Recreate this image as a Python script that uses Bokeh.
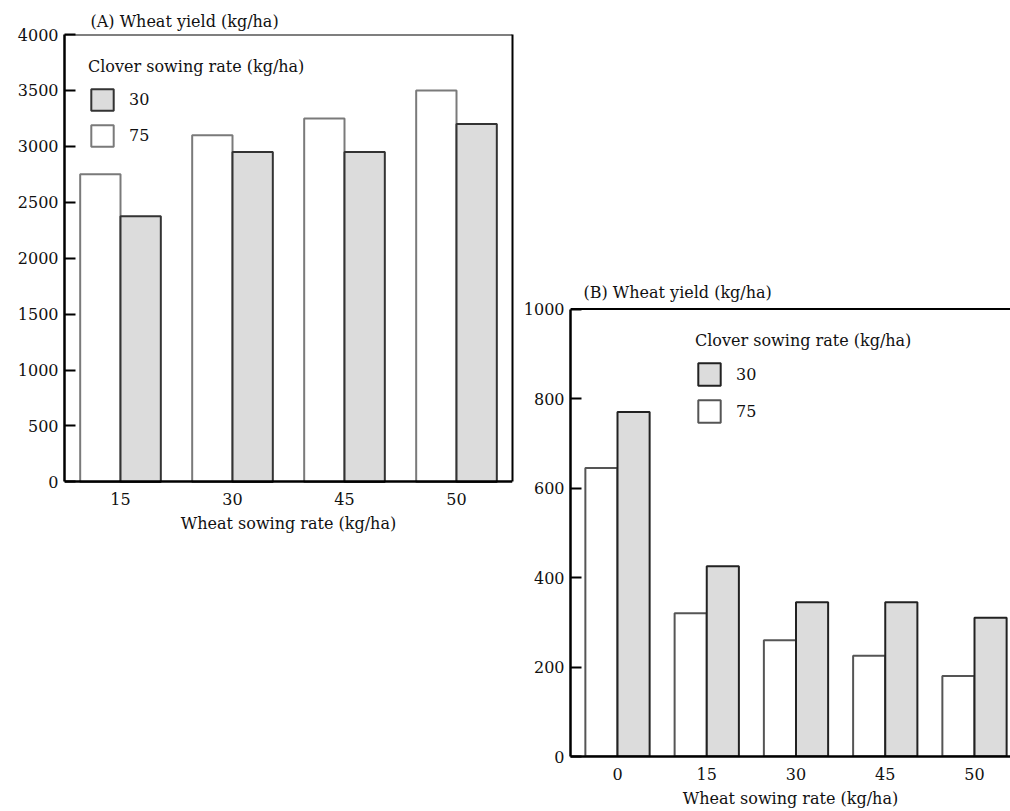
from bokeh.plotting import figure
from bokeh.models import (Range1d, FixedTicker, Legend, LegendItem, Span,
                          ColumnDataSource, LinearAxis, Label)
from bokeh.layouts import row
from bokeh.embed import file_html
from bokeh.resources import INLINE

# ---------------- data ----------------
# Panel A
a_title = "(A) Wheat yield (kg/ha)"
a_categories = ["15", "30", "45", "50"]
a_clover30 = [2375, 2950, 2950, 3200]
a_clover75 = [2750, 3100, 3250, 3500]
a_yticks = [0, 500, 1000, 1500, 2000, 2500, 3000, 3500, 4000]

# Panel B
b_title = "(B) Wheat yield (kg/ha)"
b_categories = ["0", "15", "30", "45", "50"]
b_clover30 = [770, 425, 345, 345, 310]
b_clover75 = [645, 320, 260, 225, 180]
b_yticks = [0, 200, 400, 600, 800, 1000]

x_label = "Wheat sowing rate (kg/ha)"
legend_title = "Clover sowing rate (kg/ha)"
series_labels = ["30", "75"]

FONT = "DejaVu Serif"
FS = "16px"
TXT = "#111111"
GRAY = "#dcdcdc"
BAR_W = 0.36

# shared vertical frame (both panels are aligned in a row): y 34 .. 757
H = 810
TOP = 34
BOTTOM = H - 757
FRAME_H = 757 - TOP
PANEL_H = 448  # pixel height of 0..ymax of each panel


def style_x(xa, centers, cats):
    xa.ticker = FixedTicker(ticks=centers)
    xa.major_label_overrides = {c: lab for c, lab in zip(centers, cats)}
    xa.major_tick_line_color = None
    xa.minor_tick_line_color = None
    xa.axis_line_width = 2.5
    xa.axis_line_color = "black"
    xa.axis_label = x_label
    xa.axis_label_text_font = FONT
    xa.axis_label_text_font_size = FS
    xa.axis_label_text_font_style = "normal"
    xa.axis_label_text_color = TXT
    xa.axis_label_standoff = 6
    xa.major_label_standoff = 5
    xa.major_label_text_font = FONT
    xa.major_label_text_font_size = FS
    xa.major_label_text_color = TXT


def style_y(ya, yticks, ymax):
    ya.ticker = FixedTicker(ticks=yticks)
    ya.bounds = (0, ymax)
    ya.major_tick_in = 11
    ya.major_tick_out = 0
    ya.major_tick_line_width = 2
    ya.major_tick_line_color = "black"
    ya.minor_tick_line_color = None
    ya.axis_line_width = 2.5
    ya.axis_line_color = "black"
    ya.major_label_standoff = 6
    ya.major_label_text_font = FONT
    ya.major_label_text_font_size = FS
    ya.major_label_text_color = TXT


def make_panel(cats, v30, v75, yticks, ymax, y_bottom_px, xr, width,
               min_left, min_right, legend_loc, glyph_h, line75, line30):
    # y range chosen so that 0..ymax occupies PANEL_H px ending y_bottom_px
    per_px = ymax / PANEL_H
    y0 = -(757 - y_bottom_px) * per_px
    y1 = y0 + FRAME_H * per_px
    p = figure(width=width, height=H,
               x_range=Range1d(*xr), y_range=Range1d(y0, y1),
               min_border_left=min_left, min_border_top=TOP,
               min_border_bottom=BOTTOM, min_border_right=min_right,
               output_backend="svg", toolbar_location=None)
    centers = [i + 0.5 for i in range(len(cats))]
    src = ColumnDataSource(dict(
        x75=[c - BAR_W / 2 for c in centers],
        x30=[c + BAR_W / 2 for c in centers],
        v75=v75, v30=v30))
    r75 = p.vbar(x="x75", top="v75", bottom=0, width=BAR_W, source=src,
                 fill_color="white", line_color=line75, line_width=2)
    r30 = p.vbar(x="x30", top="v30", bottom=0, width=BAR_W, source=src,
                 fill_color=GRAY, line_color=line30, line_width=2)

    p.xgrid.visible = False
    p.ygrid.visible = False
    p.outline_line_color = None
    p.background_fill_color = "white"
    p.border_fill_color = "white"
    p.add_layout(Span(location=ymax, dimension="width",
                      line_color="black", line_width=2))

    style_x(p.xaxis[0], centers, cats)
    style_y(p.yaxis[0], yticks, ymax)

    legend = Legend(
        items=[LegendItem(label=series_labels[0], renderers=[r30]),
               LegendItem(label=series_labels[1], renderers=[r75])],
        location=legend_loc, title=legend_title,
        title_text_font=FONT, title_text_font_size=FS,
        title_text_font_style="normal", title_text_color=TXT,
        title_standoff=10,
        label_text_font=FONT, label_text_font_size=FS, label_text_color=TXT,
        glyph_width=28, glyph_height=glyph_h, label_standoff=13, spacing=9,
        padding=0, margin=0, border_line_color=None,
        background_fill_alpha=0)
    p.add_layout(legend)
    return p


# Panel A: frame x 64..512, data 0..4000 at y 482..34
pa = make_panel(a_categories, a_clover30, a_clover75, a_yticks, 4000, 482,
                (0, 4), 516, 64, 4, (24, 757 - 58 - 92), 27,
                "#7a7a7a", "#333333")
pa.xaxis[0].fixed_location = 0
pa.title.text = a_title
pa.title.text_font = FONT
pa.title.text_font_size = FS
pa.title.text_font_style = "normal"
pa.title.text_color = TXT
pa.title.align = "left"
pa.title.offset = 26
pa.title.standoff = 8
# right border of panel A
rb = LinearAxis(bounds=(0, 4000), ticker=FixedTicker(ticks=[]),
                axis_line_width=2, axis_line_color="black",
                major_tick_line_color=None, minor_tick_line_color=None,
                major_label_text_font_size="0px")
pa.add_layout(rb, "right")

# Panel B: frame x 570..1010, data 0..1000 at y 757..309
b_scale = 89.25
b_frame_w = 440
b_start = 0.5 - 47 / b_scale
b_end = b_start + b_frame_w / b_scale
pb = make_panel(b_categories, b_clover30, b_clover75, b_yticks, 1000, 757,
                (b_start, b_end), 54 + b_frame_w, 54, 0, (125, 331), 28,
                "#555555", "#222222")
pb.add_layout(Label(x=b_start, y=1000, x_offset=13, y_offset=7,
                    text=b_title, text_font=FONT, text_font_size=FS,
                    text_color=TXT, text_baseline="bottom"))

layout = row(pa, pb)
open("out.html", "w").write(file_html(layout, INLINE))
